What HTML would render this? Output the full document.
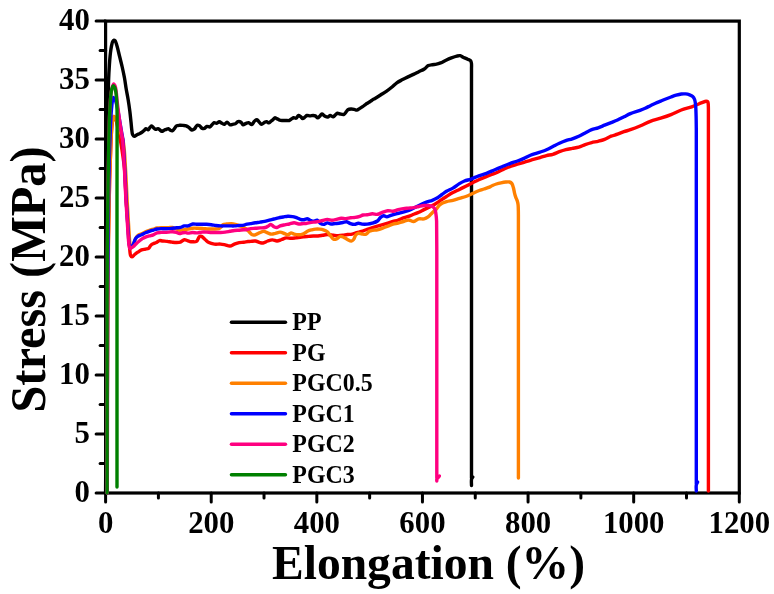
<!DOCTYPE html>
<html><head><meta charset="utf-8"><style>
html,body{margin:0;padding:0;background:#fff;}
body{width:774px;height:594px;overflow:hidden;}
svg{display:block;will-change:transform;}
text{font-family:"Liberation Serif",serif;font-weight:bold;fill:#000;}
.tl{font-size:30.8px;}
.lg{font-size:23.9px;}
.ti{font-size:47.5px;}
</style></head><body>
<svg width="774" height="594" viewBox="0 0 774 594">
<rect x="105.6" y="21.1" width="633.6999999999999" height="471.9" fill="none" stroke="#000" stroke-width="3.2"/>
<line x1="105.6" y1="493.00" x2="96.1" y2="493.00" stroke="#000" stroke-width="3" stroke-linecap="round"/>
<line x1="105.6" y1="463.51" x2="100.1" y2="463.51" stroke="#000" stroke-width="3" stroke-linecap="round"/>
<line x1="105.6" y1="434.01" x2="96.1" y2="434.01" stroke="#000" stroke-width="3" stroke-linecap="round"/>
<line x1="105.6" y1="404.52" x2="100.1" y2="404.52" stroke="#000" stroke-width="3" stroke-linecap="round"/>
<line x1="105.6" y1="375.02" x2="96.1" y2="375.02" stroke="#000" stroke-width="3" stroke-linecap="round"/>
<line x1="105.6" y1="345.53" x2="100.1" y2="345.53" stroke="#000" stroke-width="3" stroke-linecap="round"/>
<line x1="105.6" y1="316.04" x2="96.1" y2="316.04" stroke="#000" stroke-width="3" stroke-linecap="round"/>
<line x1="105.6" y1="286.54" x2="100.1" y2="286.54" stroke="#000" stroke-width="3" stroke-linecap="round"/>
<line x1="105.6" y1="257.05" x2="96.1" y2="257.05" stroke="#000" stroke-width="3" stroke-linecap="round"/>
<line x1="105.6" y1="227.56" x2="100.1" y2="227.56" stroke="#000" stroke-width="3" stroke-linecap="round"/>
<line x1="105.6" y1="198.06" x2="96.1" y2="198.06" stroke="#000" stroke-width="3" stroke-linecap="round"/>
<line x1="105.6" y1="168.57" x2="100.1" y2="168.57" stroke="#000" stroke-width="3" stroke-linecap="round"/>
<line x1="105.6" y1="139.07" x2="96.1" y2="139.07" stroke="#000" stroke-width="3" stroke-linecap="round"/>
<line x1="105.6" y1="109.58" x2="100.1" y2="109.58" stroke="#000" stroke-width="3" stroke-linecap="round"/>
<line x1="105.6" y1="80.09" x2="96.1" y2="80.09" stroke="#000" stroke-width="3" stroke-linecap="round"/>
<line x1="105.6" y1="50.59" x2="100.1" y2="50.59" stroke="#000" stroke-width="3" stroke-linecap="round"/>
<line x1="105.6" y1="21.10" x2="96.1" y2="21.10" stroke="#000" stroke-width="3" stroke-linecap="round"/>
<line x1="105.60" y1="493.0" x2="105.60" y2="502.0" stroke="#000" stroke-width="3" stroke-linecap="round"/>
<line x1="158.41" y1="493.0" x2="158.41" y2="498.0" stroke="#000" stroke-width="3" stroke-linecap="round"/>
<line x1="211.22" y1="493.0" x2="211.22" y2="502.0" stroke="#000" stroke-width="3" stroke-linecap="round"/>
<line x1="264.02" y1="493.0" x2="264.02" y2="498.0" stroke="#000" stroke-width="3" stroke-linecap="round"/>
<line x1="316.83" y1="493.0" x2="316.83" y2="502.0" stroke="#000" stroke-width="3" stroke-linecap="round"/>
<line x1="369.64" y1="493.0" x2="369.64" y2="498.0" stroke="#000" stroke-width="3" stroke-linecap="round"/>
<line x1="422.45" y1="493.0" x2="422.45" y2="502.0" stroke="#000" stroke-width="3" stroke-linecap="round"/>
<line x1="475.26" y1="493.0" x2="475.26" y2="498.0" stroke="#000" stroke-width="3" stroke-linecap="round"/>
<line x1="528.07" y1="493.0" x2="528.07" y2="502.0" stroke="#000" stroke-width="3" stroke-linecap="round"/>
<line x1="580.87" y1="493.0" x2="580.87" y2="498.0" stroke="#000" stroke-width="3" stroke-linecap="round"/>
<line x1="633.68" y1="493.0" x2="633.68" y2="502.0" stroke="#000" stroke-width="3" stroke-linecap="round"/>
<line x1="686.49" y1="493.0" x2="686.49" y2="498.0" stroke="#000" stroke-width="3" stroke-linecap="round"/>
<line x1="739.30" y1="493.0" x2="739.30" y2="502.0" stroke="#000" stroke-width="3" stroke-linecap="round"/>
<path d="M105.60,493.00 L106.20,400.00 L106.80,300.00 L107.30,200.00 L107.70,130.00 L108.10,100.00 C108.24,92.66 108.36,86.19 108.60,80.00 C108.81,74.64 109.11,69.36 109.40,65.00 C109.62,61.62 109.82,58.75 110.10,56.00 C110.34,53.65 110.60,51.46 110.90,49.50 C111.15,47.86 111.38,46.40 111.70,45.00 C111.99,43.75 112.23,42.35 112.70,41.50 C113.03,40.91 113.47,40.28 113.90,40.20 C114.28,40.13 114.76,40.45 115.10,40.80 C115.55,41.27 115.78,42.15 116.10,43.00 C116.52,44.12 116.86,45.39 117.30,47.00 C117.95,49.39 118.73,52.85 119.50,56.00 C120.35,59.48 121.37,63.33 122.20,67.00 C123.03,70.66 123.83,74.32 124.50,78.00 C125.16,81.66 125.58,85.34 126.20,89.00 C126.82,92.67 127.60,96.33 128.20,100.00 C128.80,103.66 129.33,107.33 129.80,111.00 C130.27,114.66 130.65,118.62 131.00,122.00 C131.30,124.88 131.48,127.72 131.80,130.00 C132.04,131.72 132.05,133.37 132.60,134.50 C133.01,135.34 133.62,136.29 134.30,136.40 C135.06,136.52 136.13,135.27 137.00,134.80 C137.79,134.38 138.54,134.08 139.30,133.70 C140.07,133.32 140.85,132.99 141.60,132.50 C142.42,131.97 143.27,131.27 144.00,130.60 C144.69,129.97 145.19,128.72 145.90,128.60 C146.59,128.48 147.52,129.96 148.20,129.80 C148.98,129.62 149.54,127.79 150.20,127.10 C150.70,126.58 151.20,125.87 151.70,125.90 C152.24,125.93 152.70,126.96 153.30,127.50 C153.98,128.12 154.79,129.25 155.60,129.40 C156.33,129.53 157.19,128.52 157.90,128.60 C158.58,128.68 159.17,129.35 159.80,129.80 C160.47,130.28 161.09,131.33 161.80,131.40 C162.52,131.47 163.32,130.54 164.10,130.20 C164.85,129.87 165.66,129.68 166.40,129.40 C167.09,129.14 167.77,128.50 168.40,128.60 C169.08,128.71 169.59,129.87 170.30,130.20 C170.99,130.52 171.92,130.84 172.60,130.60 C173.38,130.32 173.95,129.08 174.60,128.30 C175.25,127.52 175.68,126.40 176.50,125.90 C177.34,125.39 178.53,125.39 179.60,125.30 C180.73,125.21 181.97,125.31 183.10,125.40 C184.17,125.48 185.25,125.46 186.20,125.80 C187.14,126.13 187.92,126.76 188.80,127.40 C189.81,128.13 190.86,129.84 191.90,130.00 C192.77,130.13 193.71,129.53 194.50,128.90 C195.49,128.11 196.10,125.69 197.10,125.30 C197.86,125.00 198.82,125.38 199.60,125.80 C200.54,126.30 201.30,128.03 202.20,128.40 C202.88,128.68 203.60,128.64 204.30,128.40 C205.17,128.10 205.94,126.64 206.90,126.40 C207.84,126.16 209.14,127.19 210.00,126.90 C210.83,126.62 211.32,125.50 212.00,124.80 C212.69,124.10 213.29,122.93 214.10,122.70 C214.87,122.48 215.86,123.44 216.70,123.30 C217.60,123.15 218.43,121.70 219.30,121.70 C220.17,121.70 221.02,122.86 221.90,123.30 C222.72,123.71 223.59,124.42 224.40,124.30 C225.30,124.16 226.10,122.19 227.00,122.20 C227.99,122.21 229.05,124.53 230.10,124.80 C230.95,125.02 231.83,124.47 232.70,124.30 C233.57,124.13 234.48,124.18 235.30,123.80 C236.22,123.37 236.93,121.96 237.90,121.70 C238.84,121.45 240.16,121.70 241.00,122.20 C241.86,122.71 242.16,124.60 243.00,124.80 C243.86,125.00 245.09,123.65 246.10,123.30 C246.99,122.99 247.82,122.56 248.70,122.70 C249.72,122.87 250.88,124.77 251.80,124.60 C252.80,124.41 253.45,122.02 254.40,121.20 C255.18,120.53 256.14,119.71 256.90,119.80 C257.64,119.89 258.19,121.01 258.90,121.70 C259.74,122.52 260.66,124.32 261.60,124.40 C262.47,124.48 263.40,122.96 264.30,122.50 C265.07,122.11 265.84,121.65 266.60,121.70 C267.40,121.75 268.24,123.00 269.00,122.90 C269.81,122.80 270.56,121.51 271.30,120.90 C271.96,120.36 272.61,119.93 273.20,119.40 C273.77,118.89 274.20,117.92 274.80,117.80 C275.37,117.69 276.04,118.29 276.70,118.60 C277.44,118.95 278.15,119.49 279.00,119.80 C279.94,120.14 281.00,120.38 282.10,120.50 C283.32,120.64 284.77,120.50 286.00,120.50 C287.09,120.50 288.18,120.77 289.10,120.50 C289.97,120.24 290.61,119.45 291.40,119.00 C292.18,118.55 292.99,117.92 293.80,117.80 C294.56,117.69 295.40,118.45 296.10,118.20 C296.97,117.89 297.56,115.66 298.40,115.50 C299.12,115.36 299.99,116.19 300.70,116.70 C301.43,117.22 302.01,118.53 302.70,118.60 C303.32,118.66 303.95,117.87 304.60,117.40 C305.35,116.86 306.01,115.76 306.90,115.50 C307.81,115.24 308.97,115.90 310.00,115.90 C311.03,115.90 312.16,115.48 313.10,115.50 C313.90,115.52 314.59,115.57 315.30,115.90 C316.14,116.29 316.91,117.91 317.70,117.90 C318.48,117.89 319.28,116.57 320.00,115.90 C320.68,115.27 321.18,114.06 321.90,114.00 C322.70,113.93 323.64,115.38 324.60,115.90 C325.57,116.42 326.76,117.20 327.70,117.10 C328.58,117.00 329.22,115.60 330.10,115.50 C331.04,115.40 332.28,116.85 333.20,116.70 C334.07,116.56 334.77,115.41 335.50,114.80 C336.16,114.25 336.66,113.35 337.40,113.20 C338.18,113.04 339.11,113.80 340.10,114.00 C341.27,114.23 342.95,114.82 344.00,114.40 C345.00,114.00 345.61,112.54 346.30,111.70 C346.89,110.99 347.18,110.15 347.90,109.70 C348.70,109.20 349.96,109.07 351.00,109.00 C352.03,108.94 353.11,109.11 354.10,109.30 C355.04,109.48 355.92,110.20 356.80,110.10 C357.72,110.00 358.58,109.15 359.50,108.60 C360.51,108.00 361.58,107.31 362.60,106.60 C363.65,105.88 364.65,105.01 365.70,104.30 C366.72,103.61 367.77,103.07 368.80,102.40 C369.87,101.71 370.90,100.90 372.00,100.20 C373.10,99.50 374.14,98.96 375.40,98.20 C377.02,97.22 379.08,95.94 380.90,94.80 C382.71,93.67 384.53,92.63 386.30,91.40 C388.13,90.13 389.92,88.74 391.70,87.30 C393.53,85.82 395.22,83.91 397.10,82.60 C398.86,81.37 400.77,80.56 402.60,79.60 C404.40,78.66 406.19,77.77 408.00,76.90 C409.79,76.04 411.61,75.26 413.40,74.40 C415.21,73.53 416.99,72.60 418.80,71.70 C420.62,70.80 422.67,70.07 424.30,69.00 C425.81,68.01 426.86,66.31 428.30,65.60 C429.58,64.96 431.03,64.93 432.40,64.70 C433.76,64.47 435.15,64.49 436.50,64.20 C437.88,63.90 439.16,63.48 440.60,62.90 C442.30,62.21 444.19,61.04 446.00,60.20 C447.79,59.37 449.59,58.59 451.40,57.90 C453.19,57.22 455.19,56.46 456.80,56.10 C458.05,55.82 459.10,55.49 460.20,55.70 C461.37,55.92 462.40,56.93 463.60,57.50 C464.89,58.11 466.47,58.64 467.70,59.20 C468.73,59.67 469.88,59.91 470.50,60.60 C471.06,61.22 471.21,61.97 471.40,63.00 C471.72,64.70 471.47,65.87 471.50,70.00 L471.50,478.00 C471.91,478.20 472.72,476.93 472.80,477.00 C472.90,477.09 471.86,478.10 471.60,479.00 C471.17,480.51 471.53,483.33 471.50,485.50" fill="none" stroke="#000000" stroke-width="3.4" stroke-linejoin="round" stroke-linecap="round"/>
<path d="M107.20,493.00 L107.30,400.00 L107.60,320.00 L108.40,240.00 L109.60,180.00 L111.00,140.00 C111.43,132.50 111.71,125.12 112.50,121.00 C112.89,118.95 113.29,116.57 113.90,116.50 C114.47,116.43 115.39,118.47 116.00,120.00 C116.96,122.42 117.48,126.66 118.20,130.00 C118.92,133.33 119.67,136.66 120.30,140.00 C120.93,143.33 121.41,146.09 122.00,150.00 C122.83,155.52 123.94,162.65 124.60,170.00 L126.10,200.00 L127.90,225.00 C128.31,230.64 128.66,235.51 129.00,240.00 C129.28,243.67 129.48,247.17 129.80,250.00 C130.04,252.11 130.04,254.32 130.60,255.50 C130.93,256.19 131.37,256.87 131.90,256.90 C132.64,256.94 133.73,255.27 134.70,254.50 C135.69,253.71 136.70,252.94 137.80,252.20 C138.98,251.40 140.28,250.42 141.60,249.90 C142.85,249.41 144.28,249.38 145.50,249.10 C146.60,248.85 147.73,248.89 148.60,248.30 C149.56,247.65 150.04,245.99 150.90,245.20 C151.63,244.52 152.43,244.14 153.30,243.70 C154.25,243.23 155.39,243.00 156.40,242.50 C157.46,241.98 158.42,240.83 159.50,240.60 C160.50,240.39 161.46,240.88 162.60,241.00 C163.98,241.15 165.66,241.22 167.20,241.40 C168.76,241.58 170.34,241.92 171.90,242.10 C173.44,242.28 175.03,242.51 176.50,242.50 C177.85,242.49 179.14,242.51 180.40,242.10 C181.75,241.66 183.04,239.98 184.30,239.80 C185.36,239.65 186.42,240.29 187.40,240.60 C188.31,240.89 189.11,241.40 190.00,241.60 C190.88,241.80 191.72,241.82 192.70,241.80 C193.86,241.78 195.43,242.07 196.50,241.40 C197.83,240.56 198.50,237.01 199.60,236.40 C200.24,236.04 200.90,236.13 201.60,236.40 C202.68,236.81 203.90,238.48 205.10,239.50 C206.33,240.55 207.42,241.84 208.90,242.60 C210.49,243.42 212.49,243.84 214.40,244.10 C216.39,244.37 218.69,243.94 220.60,244.10 C222.25,244.24 223.66,244.59 225.20,244.90 C226.76,245.22 228.36,246.12 229.90,246.00 C231.46,245.87 232.95,244.67 234.50,244.10 C236.05,243.53 237.62,242.92 239.20,242.60 C240.72,242.29 242.31,242.39 243.80,242.20 C245.24,242.02 246.75,241.63 248.00,241.50 C249.00,241.40 249.68,241.46 250.70,241.40 C252.03,241.32 253.78,240.82 255.30,241.00 C256.88,241.19 258.58,242.27 260.00,242.60 C261.13,242.86 261.99,243.16 263.10,243.00 C264.51,242.80 266.13,241.52 267.70,241.00 C269.24,240.49 270.84,239.90 272.40,239.90 C273.94,239.90 275.47,241.06 277.00,241.00 C278.57,240.94 280.15,240.02 281.70,239.50 C283.24,238.98 284.74,238.10 286.30,237.90 C287.84,237.71 289.44,238.30 291.00,238.30 C292.54,238.30 294.06,238.08 295.60,237.90 C297.16,237.72 298.83,237.39 300.30,237.20 C301.61,237.03 302.69,236.93 304.00,236.80 C305.47,236.66 307.14,236.53 308.70,236.40 C310.24,236.27 311.76,236.07 313.30,236.00 C314.86,235.93 316.45,236.12 318.00,236.00 C319.55,235.88 321.06,235.55 322.60,235.30 C324.16,235.05 325.62,234.53 327.30,234.50 C329.22,234.46 331.59,235.09 333.50,235.30 C335.15,235.48 336.56,235.70 338.10,235.70 C339.66,235.70 341.25,235.50 342.80,235.30 C344.35,235.10 345.85,234.70 347.40,234.50 C348.95,234.30 350.56,234.41 352.10,234.10 C353.66,233.78 355.14,233.03 356.70,232.60 C358.27,232.16 359.85,232.00 361.50,231.50 C363.34,230.94 365.34,229.95 367.20,229.30 C368.94,228.69 370.59,228.22 372.30,227.70 C374.02,227.18 375.77,226.72 377.50,226.20 C379.24,225.68 380.97,225.12 382.70,224.60 C384.41,224.09 386.09,223.61 387.80,223.10 C389.53,222.58 391.26,222.02 393.00,221.50 C394.73,220.98 396.49,220.60 398.20,220.00 C399.93,219.40 401.57,218.50 403.30,217.90 C405.01,217.30 406.78,216.99 408.50,216.40 C410.25,215.80 411.98,215.00 413.70,214.30 C415.41,213.60 417.11,212.97 418.80,212.20 C420.54,211.41 422.26,210.45 424.00,209.60 C425.73,208.75 427.47,207.95 429.20,207.10 C430.94,206.25 432.79,205.41 434.40,204.50 C435.87,203.67 437.39,202.67 438.50,201.90 C439.30,201.35 439.64,201.00 440.50,200.40 C441.95,199.39 444.46,197.79 446.50,196.50 C448.59,195.18 450.73,193.79 452.90,192.60 C455.03,191.43 457.24,190.47 459.40,189.40 C461.54,188.34 463.66,187.28 465.80,186.20 C467.96,185.11 470.13,183.98 472.30,182.90 C474.46,181.82 476.62,180.68 478.80,179.70 C480.92,178.75 483.06,177.96 485.20,177.10 C487.36,176.23 489.54,175.35 491.70,174.50 C493.84,173.65 495.98,172.95 498.10,172.00 C500.28,171.02 502.41,169.69 504.60,168.70 C506.75,167.73 508.92,166.86 511.10,166.10 C513.22,165.36 515.36,164.83 517.50,164.20 C519.66,163.56 521.84,162.95 524.00,162.30 C526.14,161.65 528.05,161.00 530.40,160.30 C533.27,159.45 537.12,158.45 540.00,157.60 C542.38,156.90 544.33,156.15 546.50,155.60 C548.63,155.06 550.79,154.93 552.90,154.30 C555.09,153.65 557.23,152.47 559.40,151.70 C561.53,150.94 563.64,150.25 565.80,149.70 C567.94,149.15 570.13,148.82 572.30,148.40 C574.47,147.98 576.67,147.82 578.80,147.20 C580.97,146.56 583.04,145.37 585.20,144.60 C587.34,143.84 589.53,143.15 591.70,142.60 C593.83,142.06 595.97,141.83 598.10,141.30 C600.27,140.76 602.47,140.23 604.60,139.40 C606.80,138.54 608.91,137.08 611.10,136.20 C613.21,135.36 615.37,134.94 617.50,134.20 C619.67,133.44 621.83,132.46 624.00,131.70 C626.13,130.96 628.07,130.51 630.40,129.70 C633.29,128.69 636.76,127.36 640.00,126.00 C643.39,124.57 646.81,122.61 650.30,121.30 C653.71,120.02 657.25,119.31 660.70,118.20 C664.15,117.08 667.59,115.95 671.00,114.60 C674.46,113.22 677.82,111.29 681.30,110.00 C684.72,108.73 688.87,107.90 691.70,106.90 C693.72,106.18 695.09,105.50 696.80,104.80 C698.52,104.10 700.36,103.33 702.00,102.70 C703.44,102.14 705.05,101.23 706.10,101.20 C706.75,101.18 707.35,101.32 707.70,101.70 C708.10,102.13 708.08,102.91 708.20,103.80 C708.40,105.31 708.34,106.33 708.40,110.00 L708.40,491.00" fill="none" stroke="#ff0000" stroke-width="3.4" stroke-linejoin="round" stroke-linecap="round"/>
<path d="M107.30,493.00 L107.40,400.00 L107.70,320.00 L108.50,240.00 L109.60,180.00 L111.00,140.00 C111.43,132.50 111.71,125.12 112.50,121.00 C112.89,118.95 113.26,116.60 113.90,116.50 C114.46,116.41 115.35,118.31 116.00,119.50 C116.82,121.02 117.49,123.04 118.20,125.00 C118.99,127.18 119.73,129.59 120.50,132.00 C121.33,134.57 122.38,137.16 123.00,140.00 C123.68,143.12 123.94,146.32 124.30,150.00 C124.74,154.49 124.97,159.64 125.30,165.00 C125.68,171.19 126.09,178.81 126.40,185.00 C126.67,190.36 126.79,194.14 127.10,200.00 L128.90,230.00 C129.33,235.86 129.45,242.02 130.20,245.00 C130.54,246.34 130.89,247.72 131.40,247.80 C131.85,247.87 132.54,246.80 133.00,246.00 C133.65,244.88 133.94,242.96 134.50,241.50 C135.05,240.06 135.60,238.40 136.30,237.30 C136.84,236.46 137.33,235.85 138.10,235.30 C139.02,234.64 140.41,234.36 141.60,233.80 C142.87,233.20 144.18,232.39 145.50,231.80 C146.78,231.23 148.09,230.75 149.40,230.30 C150.69,229.85 152.01,229.49 153.30,229.10 C154.57,228.72 155.81,228.25 157.10,228.00 C158.38,227.75 159.70,227.63 161.00,227.60 C162.30,227.57 163.60,227.80 164.90,227.80 C166.20,227.80 167.51,227.65 168.80,227.60 C170.07,227.55 171.35,227.28 172.60,227.50 C173.91,227.73 175.28,228.51 176.50,229.00 C177.60,229.44 178.44,230.14 179.60,230.30 C180.98,230.49 182.83,229.93 184.30,229.70 C185.61,229.49 186.69,229.24 188.00,229.00 C189.47,228.74 191.14,228.33 192.70,228.20 C194.24,228.07 195.65,228.15 197.30,228.20 C199.21,228.26 201.58,228.46 203.50,228.60 C205.18,228.73 206.58,228.93 208.20,229.00 C209.94,229.07 211.80,229.07 213.60,229.00 C215.40,228.93 217.69,229.11 219.00,228.60 C219.90,228.25 220.37,227.62 221.00,227.00 C221.68,226.33 222.04,225.20 222.90,224.70 C223.89,224.12 225.44,224.18 226.80,224.00 C228.27,223.81 229.93,223.53 231.40,223.60 C232.76,223.66 233.96,223.94 235.30,224.30 C236.81,224.71 238.62,225.45 240.00,226.00 C241.12,226.44 242.01,226.84 243.00,227.30 C244.01,227.77 245.04,228.13 246.00,228.80 C247.08,229.55 248.07,230.71 249.10,231.70 C250.14,232.71 251.06,234.33 252.20,234.80 C253.16,235.20 254.24,235.05 255.30,234.80 C256.56,234.51 257.83,233.46 259.20,232.90 C260.65,232.31 262.34,231.36 263.80,231.40 C265.16,231.44 266.39,232.45 267.70,232.90 C268.99,233.35 270.29,234.04 271.60,234.10 C272.89,234.16 274.15,233.61 275.50,233.30 C276.97,232.96 278.57,232.04 280.10,232.10 C281.67,232.16 283.40,233.21 284.80,233.70 C285.94,234.10 286.89,234.91 287.90,234.80 C288.96,234.69 289.94,233.00 291.00,232.90 C292.01,232.81 292.95,233.79 294.10,234.10 C295.46,234.46 297.16,234.85 298.70,234.80 C300.26,234.75 301.90,234.40 303.40,233.80 C304.97,233.17 306.41,231.68 307.90,231.00 C309.21,230.40 310.50,230.12 311.80,229.80 C313.07,229.49 314.32,229.22 315.60,229.10 C316.89,228.98 318.21,228.98 319.50,229.10 C320.81,229.22 322.13,229.37 323.40,229.80 C324.73,230.25 326.16,230.87 327.30,231.80 C328.52,232.80 329.35,234.46 330.40,235.70 C331.41,236.89 332.34,238.66 333.50,239.10 C334.45,239.47 335.56,239.16 336.60,238.80 C337.85,238.37 339.16,236.59 340.40,236.40 C341.45,236.24 342.44,236.76 343.50,237.20 C344.76,237.72 346.08,238.84 347.40,239.50 C348.68,240.13 350.20,241.22 351.30,241.10 C352.20,241.00 352.92,240.29 353.60,239.50 C354.52,238.43 354.96,235.96 355.90,234.90 C356.60,234.10 357.37,233.49 358.30,233.30 C359.36,233.08 360.73,233.85 362.00,234.00 C363.33,234.16 364.91,234.64 366.10,234.20 C367.31,233.75 368.09,231.95 369.20,231.30 C370.17,230.73 371.12,230.54 372.30,230.30 C373.80,229.99 375.78,230.14 377.50,229.80 C379.25,229.45 380.99,228.80 382.70,228.20 C384.42,227.60 386.09,226.88 387.80,226.20 C389.53,225.51 391.24,224.62 393.00,224.10 C394.71,223.60 396.49,223.53 398.20,223.10 C399.92,222.67 401.59,222.02 403.30,221.50 C405.02,220.98 406.77,220.00 408.50,220.00 C410.23,220.00 412.01,221.66 413.70,221.50 C415.44,221.33 417.04,219.32 418.80,218.90 C420.48,218.50 422.41,219.27 424.00,218.90 C425.49,218.56 426.80,217.83 428.10,216.90 C429.58,215.84 430.89,214.02 432.30,212.70 C433.65,211.43 435.13,210.43 436.40,209.10 C437.70,207.74 438.44,205.80 440.00,204.60 C441.73,203.26 444.30,202.40 446.50,201.70 C448.60,201.03 450.77,200.94 452.90,200.40 C455.07,199.85 457.24,199.05 459.40,198.40 C461.54,197.75 463.90,197.16 465.80,196.50 C467.36,195.95 468.57,195.44 470.00,194.80 C471.53,194.12 473.13,193.22 474.70,192.50 C476.23,191.79 477.74,191.09 479.30,190.50 C480.84,189.92 482.45,189.52 484.00,189.00 C485.54,188.48 487.15,188.00 488.60,187.40 C489.97,186.83 491.19,186.07 492.50,185.50 C493.79,184.94 495.03,184.44 496.40,184.00 C497.86,183.53 499.45,183.13 501.00,182.80 C502.55,182.47 504.21,182.13 505.70,182.00 C507.03,181.89 508.42,181.67 509.50,182.00 C510.44,182.29 511.28,182.80 511.90,183.60 C512.67,184.59 512.97,186.29 513.40,187.80 C513.89,189.50 514.18,191.64 514.60,193.30 C514.95,194.69 515.26,195.84 515.70,197.10 C516.15,198.40 516.90,199.68 517.30,201.00 C517.69,202.28 517.91,203.29 518.10,204.90 C518.40,207.47 518.32,209.37 518.40,215.00 L518.40,478.00" fill="none" stroke="#ff8000" stroke-width="3.4" stroke-linejoin="round" stroke-linecap="round"/>
<path d="M107.30,493.00 L107.40,400.00 L107.60,300.00 L108.30,220.00 L109.20,160.00 L110.50,125.00 C110.89,117.70 111.18,111.06 111.80,106.00 C112.22,102.59 112.46,97.73 113.30,97.50 C113.76,97.37 114.52,98.64 115.00,99.50 C115.65,100.65 116.04,102.32 116.50,104.00 C117.06,106.06 117.50,108.43 118.00,111.00 C118.61,114.14 119.21,118.04 119.80,121.50 C120.38,124.87 120.94,128.21 121.50,131.50 C122.04,134.71 122.64,136.96 123.10,141.00 L124.80,170.00 L126.20,200.00 L128.10,230.00 C128.54,235.86 128.62,242.14 129.40,245.00 C129.74,246.23 130.08,247.39 130.60,247.50 C131.07,247.60 131.80,246.65 132.30,246.00 C132.90,245.22 133.32,244.10 133.80,243.00 C134.36,241.73 134.67,239.96 135.40,238.80 C136.04,237.78 136.82,236.95 137.80,236.30 C138.86,235.59 140.34,235.37 141.60,234.80 C142.91,234.21 144.18,233.39 145.50,232.80 C146.78,232.23 148.09,231.75 149.40,231.30 C150.69,230.85 152.01,230.49 153.30,230.10 C154.57,229.72 155.81,229.25 157.10,229.00 C158.38,228.75 159.70,228.63 161.00,228.60 C162.30,228.57 163.60,228.80 164.90,228.80 C166.20,228.80 167.51,228.70 168.80,228.60 C170.08,228.50 171.33,228.33 172.60,228.20 C173.89,228.07 175.20,227.93 176.50,227.80 C177.80,227.67 179.12,227.71 180.40,227.40 C181.72,227.08 182.99,226.14 184.30,225.90 C185.53,225.67 186.72,226.15 188.00,225.90 C189.50,225.61 191.11,224.26 192.70,224.00 C194.21,223.76 195.76,224.25 197.30,224.30 C198.86,224.35 200.44,224.30 202.00,224.30 C203.54,224.30 205.06,224.23 206.60,224.30 C208.16,224.37 209.75,224.50 211.30,224.70 C212.85,224.90 214.35,225.30 215.90,225.50 C217.45,225.70 219.04,225.83 220.60,225.90 C222.14,225.97 223.66,225.90 225.20,225.90 C226.76,225.90 228.34,225.90 229.90,225.90 C231.44,225.90 232.96,225.97 234.50,225.90 C236.06,225.83 237.64,225.63 239.20,225.50 C240.74,225.37 242.56,225.35 243.80,225.10 C244.68,224.92 245.12,224.61 246.00,224.40 C247.26,224.09 249.14,223.87 250.70,223.60 C252.24,223.33 253.76,223.05 255.30,222.80 C256.86,222.55 258.44,222.35 260.00,222.10 C261.54,221.85 263.06,221.63 264.60,221.30 C266.16,220.96 267.74,220.49 269.30,220.10 C270.84,219.72 272.36,219.38 273.90,219.00 C275.46,218.61 277.04,218.14 278.60,217.80 C280.14,217.47 281.66,217.27 283.20,217.00 C284.76,216.73 286.34,216.26 287.90,216.20 C289.44,216.14 291.13,216.36 292.50,216.60 C293.64,216.80 294.47,217.03 295.60,217.40 C297.02,217.87 298.93,218.90 300.30,219.30 C301.31,219.59 302.12,219.82 303.00,219.80 C303.85,219.78 304.77,219.42 305.50,219.20 C306.10,219.02 306.49,218.56 307.10,218.60 C307.97,218.65 309.15,219.75 310.20,220.20 C311.22,220.64 312.20,221.26 313.30,221.30 C314.52,221.34 316.05,219.90 317.20,220.20 C318.40,220.51 319.18,222.59 320.30,223.30 C321.27,223.91 322.31,224.41 323.40,224.40 C324.63,224.38 326.00,222.96 327.30,222.90 C328.57,222.85 329.81,223.88 331.10,224.00 C332.38,224.12 333.70,223.72 335.00,223.60 C336.30,223.48 337.61,223.48 338.90,223.30 C340.21,223.12 341.51,222.77 342.80,222.50 C344.08,222.23 345.35,221.55 346.60,221.70 C347.92,221.86 349.17,223.15 350.50,223.60 C351.77,224.03 353.11,224.45 354.40,224.40 C355.71,224.35 357.01,223.34 358.30,223.30 C359.54,223.26 360.65,223.96 362.00,224.10 C363.58,224.27 365.48,224.27 367.20,224.10 C368.92,223.93 370.62,223.60 372.30,223.10 C374.05,222.58 376.08,222.01 377.50,221.00 C378.80,220.07 379.47,218.29 380.60,217.40 C381.57,216.64 382.65,215.87 383.70,215.80 C384.72,215.73 385.70,216.92 386.80,216.90 C388.07,216.88 389.44,215.79 390.90,215.30 C392.52,214.75 394.36,214.23 396.10,213.80 C397.83,213.37 399.58,213.13 401.30,212.70 C403.02,212.27 404.71,211.79 406.40,211.20 C408.14,210.59 409.88,209.87 411.60,209.10 C413.35,208.31 415.07,207.35 416.80,206.50 C418.51,205.66 420.18,204.77 421.90,204.00 C423.61,203.24 425.35,202.52 427.10,201.90 C428.82,201.29 430.59,200.97 432.30,200.30 C434.06,199.61 435.87,198.78 437.50,197.80 C439.10,196.84 440.50,195.59 442.00,194.50 C443.50,193.42 444.83,192.31 446.50,191.30 C448.41,190.15 450.80,189.34 452.90,188.10 C455.11,186.79 457.32,184.84 459.40,183.60 C461.17,182.54 462.66,181.73 464.50,181.00 C466.50,180.21 468.76,179.90 471.00,179.10 C473.51,178.21 476.19,176.77 478.80,175.80 C481.35,174.85 483.95,174.25 486.50,173.30 C489.11,172.33 491.71,171.09 494.30,170.00 C496.87,168.92 499.42,167.86 502.00,166.80 C504.59,165.73 507.19,164.57 509.80,163.60 C512.36,162.64 515.05,161.90 517.50,161.00 C519.77,160.16 521.86,159.36 524.00,158.40 C526.16,157.43 528.01,156.18 530.40,155.20 C533.24,154.04 537.12,153.10 540.00,152.10 C542.39,151.27 544.37,150.62 546.50,149.70 C548.67,148.76 550.76,147.56 552.90,146.50 C555.06,145.43 557.22,144.28 559.40,143.30 C561.52,142.35 563.64,141.45 565.80,140.70 C567.94,139.95 570.15,139.54 572.30,138.80 C574.48,138.05 576.66,137.17 578.80,136.20 C580.97,135.21 583.05,133.98 585.20,132.90 C587.35,131.81 589.50,130.56 591.70,129.70 C593.81,128.88 595.98,128.54 598.10,127.80 C600.28,127.04 602.43,126.07 604.60,125.20 C606.77,124.33 608.94,123.47 611.10,122.60 C613.24,121.74 615.38,120.95 617.50,120.00 C619.68,119.02 621.84,117.87 624.00,116.80 C626.14,115.74 628.01,114.60 630.40,113.60 C633.24,112.41 637.30,111.31 640.00,110.30 C642.01,109.55 643.49,108.96 645.20,108.20 C646.92,107.43 648.59,106.53 650.30,105.70 C652.02,104.86 653.75,103.97 655.50,103.20 C657.22,102.44 658.98,101.80 660.70,101.10 C662.41,100.40 664.09,99.68 665.80,99.00 C667.52,98.31 669.26,97.64 671.00,97.00 C672.73,96.37 674.46,95.70 676.20,95.20 C677.90,94.71 679.67,94.21 681.30,94.00 C682.76,93.81 684.12,93.77 685.50,93.90 C686.88,94.03 688.36,94.35 689.60,94.80 C690.73,95.21 691.87,95.63 692.70,96.40 C693.55,97.19 694.13,98.27 694.60,99.50 C695.18,101.03 695.36,102.84 695.60,105.00 C695.94,108.03 695.98,112.11 696.10,116.00 C696.23,120.38 696.24,122.21 696.30,130.00 L696.30,484.00 C696.70,484.12 697.54,481.97 697.60,482.00 C697.67,482.04 696.55,483.80 696.30,485.00 C695.96,486.63 696.30,489.00 696.30,491.00" fill="none" stroke="#0000ff" stroke-width="3.4" stroke-linejoin="round" stroke-linecap="round"/>
<path d="M107.20,493.00 L107.20,400.00 L107.40,250.00 L108.10,180.00 L108.80,143.00 C108.97,135.02 109.10,127.88 109.30,122.00 C109.45,117.74 109.60,114.82 109.80,111.00 C110.02,106.85 110.23,101.87 110.60,98.00 C110.90,94.86 111.12,92.01 111.70,89.50 C112.18,87.41 112.88,83.99 113.60,83.90 C114.12,83.83 114.87,85.40 115.30,86.50 C115.90,88.04 116.03,90.38 116.30,92.50 C116.61,94.86 116.71,97.26 117.00,100.00 C117.35,103.32 117.83,107.34 118.30,111.00 C118.77,114.67 119.27,118.42 119.80,122.00 C120.31,125.42 120.88,128.71 121.40,132.00 C121.91,135.21 122.47,137.47 122.90,141.50 L124.50,170.00 L125.90,200.00 L127.80,230.00 C128.22,235.86 128.46,241.76 129.00,245.00 C129.27,246.59 129.40,248.20 129.90,248.50 C130.15,248.65 130.45,248.45 130.80,248.30 C131.41,248.04 132.31,247.44 133.10,246.80 C134.10,245.99 135.15,244.68 136.20,243.70 C137.22,242.75 138.25,241.86 139.30,241.00 C140.32,240.16 141.33,239.26 142.40,238.60 C143.40,237.98 144.39,237.54 145.50,237.10 C146.71,236.62 148.10,236.28 149.40,235.90 C150.70,235.52 152.03,235.31 153.30,234.80 C154.60,234.28 155.79,233.20 157.10,232.80 C158.36,232.42 159.70,232.47 161.00,232.40 C162.30,232.33 163.60,232.45 164.90,232.40 C166.20,232.35 167.51,232.22 168.80,232.10 C170.08,231.98 171.33,231.65 172.60,231.70 C173.89,231.75 175.29,232.06 176.50,232.40 C177.61,232.71 178.56,233.54 179.60,233.60 C180.62,233.66 181.66,232.97 182.70,232.80 C183.73,232.64 184.86,232.53 185.80,232.60 C186.60,232.66 187.12,233.06 188.00,233.10 C189.27,233.16 191.14,232.53 192.70,232.50 C194.24,232.47 195.76,232.96 197.30,232.90 C198.86,232.84 200.44,232.23 202.00,232.10 C203.54,231.97 205.06,232.03 206.60,232.10 C208.16,232.17 209.74,232.43 211.30,232.50 C212.84,232.57 214.36,232.50 215.90,232.50 C217.46,232.50 219.04,232.57 220.60,232.50 C222.14,232.43 223.66,232.30 225.20,232.10 C226.76,231.90 228.34,231.57 229.90,231.30 C231.44,231.03 232.95,230.68 234.50,230.50 C236.05,230.32 237.64,230.32 239.20,230.20 C240.74,230.08 242.55,229.85 243.80,229.80 C244.67,229.76 245.14,229.91 246.00,229.80 C247.28,229.64 249.13,228.85 250.70,228.60 C252.23,228.36 253.76,228.42 255.30,228.30 C256.86,228.18 258.38,228.03 260.00,227.90 C261.74,227.76 263.88,227.93 265.40,227.50 C266.62,227.16 267.56,226.45 268.50,225.90 C269.34,225.41 269.99,224.38 270.80,224.40 C271.77,224.43 272.81,226.18 273.90,226.70 C274.89,227.17 275.99,227.61 277.00,227.50 C278.06,227.38 278.93,226.33 280.10,225.90 C281.48,225.39 283.24,225.12 284.80,224.80 C286.34,224.49 287.86,224.33 289.40,224.00 C290.96,223.66 292.54,222.80 294.10,222.80 C295.64,222.80 297.15,223.87 298.70,224.00 C300.25,224.13 302.06,223.68 303.40,223.60 C304.39,223.54 305.13,223.61 306.00,223.50 C306.90,223.38 307.68,223.10 308.70,222.90 C310.03,222.64 311.75,222.30 313.30,222.10 C314.85,221.90 316.45,221.97 318.00,221.70 C319.55,221.43 321.06,220.88 322.60,220.50 C324.16,220.12 325.74,219.45 327.30,219.40 C328.84,219.36 330.36,220.20 331.90,220.20 C333.46,220.20 335.05,219.73 336.60,219.40 C338.15,219.07 339.65,218.33 341.20,218.20 C342.75,218.07 344.35,218.67 345.90,218.60 C347.45,218.53 348.95,218.00 350.50,217.80 C352.05,217.60 353.65,217.65 355.20,217.40 C356.75,217.15 358.42,216.74 359.80,216.30 C360.98,215.92 361.84,215.26 363.00,215.00 C364.28,214.72 365.74,214.98 367.20,214.80 C368.82,214.60 370.59,213.88 372.30,213.80 C374.02,213.72 375.80,214.55 377.50,214.30 C379.27,214.04 380.96,212.81 382.70,212.20 C384.39,211.61 386.08,210.86 387.80,210.70 C389.51,210.54 391.28,211.37 393.00,211.20 C394.75,211.02 396.46,210.04 398.20,209.60 C399.90,209.17 401.59,208.85 403.30,208.60 C405.02,208.35 406.77,208.27 408.50,208.10 C410.23,207.93 411.98,207.87 413.70,207.60 C415.42,207.33 417.09,206.85 418.80,206.50 C420.52,206.15 422.36,205.66 424.00,205.50 C425.44,205.36 426.73,205.34 428.10,205.50 C429.50,205.66 431.14,205.85 432.30,206.50 C433.37,207.10 434.30,208.00 434.90,209.10 C435.58,210.36 435.63,212.06 435.90,213.80 C436.23,215.94 436.43,217.79 436.60,221.00 L436.80,250.00 L436.80,478.00 C437.57,478.38 439.31,475.91 439.40,476.00 C439.49,476.10 437.27,478.04 436.90,479.00 C436.63,479.69 436.83,480.33 436.80,481.00" fill="none" stroke="#ff0080" stroke-width="3.4" stroke-linejoin="round" stroke-linecap="round"/>
<path d="M107.10,493.00 L107.10,300.00 L107.30,250.00 L108.10,180.00 L108.80,143.00 C108.97,135.02 109.10,127.88 109.30,122.00 C109.45,117.74 109.60,114.82 109.80,111.00 C110.02,106.85 110.23,101.87 110.60,98.00 C110.90,94.86 111.10,91.76 111.70,89.50 C112.12,87.92 112.69,85.67 113.30,85.60 C113.81,85.54 114.56,86.96 115.00,88.00 C115.63,89.50 115.81,91.85 116.10,94.00 C116.43,96.47 116.63,99.01 116.80,102.00 C117.01,105.81 117.05,110.51 117.10,115.00 C117.16,119.82 117.10,123.16 117.10,130.00 L117.00,200.00 L117.00,487.00" fill="none" stroke="#008000" stroke-width="3.4" stroke-linejoin="round" stroke-linecap="round"/>
<text transform="translate(89.8,501.90) scale(1,1.04)" text-anchor="end" class="tl">0</text>
<text transform="translate(89.8,442.91) scale(1,1.04)" text-anchor="end" class="tl">5</text>
<text transform="translate(89.8,383.92) scale(1,1.04)" text-anchor="end" class="tl">10</text>
<text transform="translate(89.8,324.94) scale(1,1.04)" text-anchor="end" class="tl">15</text>
<text transform="translate(89.8,265.95) scale(1,1.04)" text-anchor="end" class="tl">20</text>
<text transform="translate(89.8,206.96) scale(1,1.04)" text-anchor="end" class="tl">25</text>
<text transform="translate(89.8,147.97) scale(1,1.04)" text-anchor="end" class="tl">30</text>
<text transform="translate(89.8,88.99) scale(1,1.04)" text-anchor="end" class="tl">35</text>
<text transform="translate(89.8,30.00) scale(1,1.04)" text-anchor="end" class="tl">40</text>
<text transform="translate(105.60,532.9) scale(1,1.04)" text-anchor="middle" class="tl">0</text>
<text transform="translate(211.22,532.9) scale(1,1.04)" text-anchor="middle" class="tl">200</text>
<text transform="translate(316.83,532.9) scale(1,1.04)" text-anchor="middle" class="tl">400</text>
<text transform="translate(422.45,532.9) scale(1,1.04)" text-anchor="middle" class="tl">600</text>
<text transform="translate(528.07,532.9) scale(1,1.04)" text-anchor="middle" class="tl">800</text>
<text transform="translate(633.68,532.9) scale(1,1.04)" text-anchor="middle" class="tl">1000</text>
<text transform="translate(739.30,532.9) scale(1,1.04)" text-anchor="middle" class="tl">1200</text>
<line x1="231.5" y1="322.20" x2="285.4" y2="322.20" stroke="#000000" stroke-width="3.6" stroke-linecap="round"/>
<text transform="translate(292.3,330.00) scale(1,1.08)" class="lg">PP</text>
<line x1="231.5" y1="352.70" x2="285.4" y2="352.70" stroke="#ff0000" stroke-width="3.6" stroke-linecap="round"/>
<text transform="translate(292.3,360.50) scale(1,1.08)" class="lg">PG</text>
<line x1="231.5" y1="383.20" x2="285.4" y2="383.20" stroke="#ff8000" stroke-width="3.6" stroke-linecap="round"/>
<text transform="translate(292.3,391.00) scale(1,1.08)" class="lg">PGC0.5</text>
<line x1="231.5" y1="413.70" x2="285.4" y2="413.70" stroke="#0000ff" stroke-width="3.6" stroke-linecap="round"/>
<text transform="translate(292.3,421.50) scale(1,1.08)" class="lg">PGC1</text>
<line x1="231.5" y1="444.20" x2="285.4" y2="444.20" stroke="#ff0080" stroke-width="3.6" stroke-linecap="round"/>
<text transform="translate(292.3,452.00) scale(1,1.08)" class="lg">PGC2</text>
<line x1="231.5" y1="474.70" x2="285.4" y2="474.70" stroke="#008000" stroke-width="3.6" stroke-linecap="round"/>
<text transform="translate(292.3,482.50) scale(1,1.08)" class="lg">PGC3</text>
<text x="272" y="579" class="ti" textLength="313" lengthAdjust="spacingAndGlyphs">Elongation (%)</text>
<text transform="translate(44.5,412.5) rotate(-90)" x="0" y="0" class="ti" style="font-size:50px" textLength="266" lengthAdjust="spacingAndGlyphs">Stress (MPa)</text>
</svg>
</body></html>
